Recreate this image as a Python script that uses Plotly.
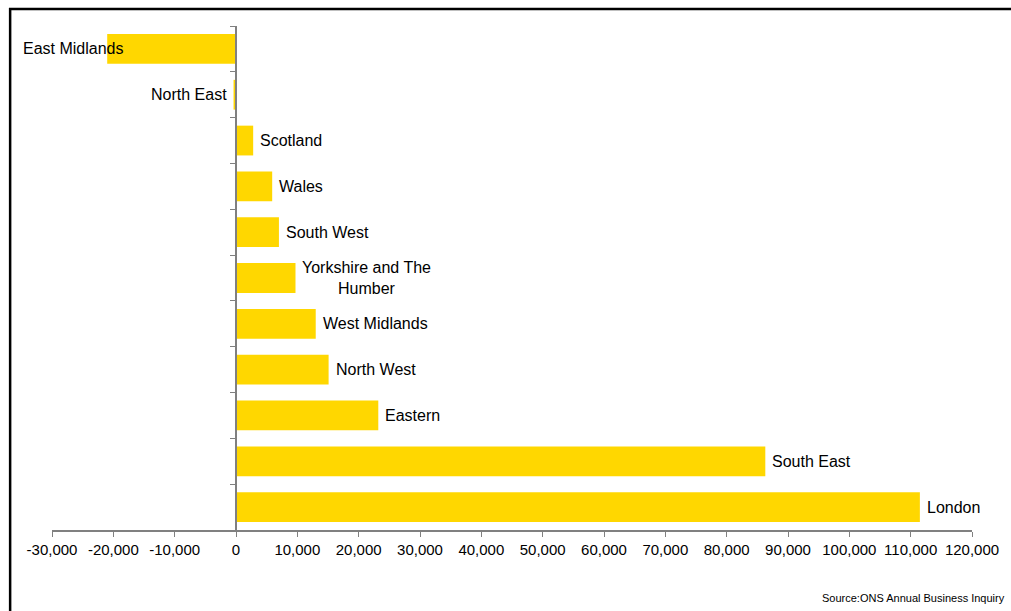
import plotly.graph_objects as go

# Regions, top to bottom, and their change in employment
regions = ["East Midlands", "North East", "Scotland", "Wales", "South West",
           "Yorkshire and The Humber", "West Midlands", "North West", "Eastern",
           "South East", "London"]
labels = ["East Midlands", "North East", "Scotland", "Wales", "South West",
          "Yorkshire and The<br>Humber", "West Midlands", "North West", "Eastern",
          "South East", "London"]
values = [-21000, -400, 2800, 5900, 7000, 9700, 13000, 15100, 23200, 86300, 111500]

x_ticks = list(range(-30000, 120001, 10000))
x_tick_text = [f"{t:,}" for t in x_ticks]  # plain hyphen for negatives

W, H = 1011, 611
ML, MR, MT, MB = 52, 36, 26, 81
PW, PH = W - ML - MR, H - MT - MB


def px(x):
    return (x - ML) / PW


def py(y):
    return (H - MB - y) / PH


BAR = "#FFD700"
AXIS = "#808080"
FONT = "Liberation Sans, Arial, sans-serif"

fig = go.Figure(go.Bar(
    x=values, y=regions, orientation="h",
    marker=dict(color=BAR, line=dict(width=0)),
    hoverinfo="x+y",
))

annotations = []
for reg, lab, v in zip(regions, labels, values):
    if v >= 0:
        annotations.append(dict(x=v, y=reg, xref="x", yref="y", text=lab,
                                showarrow=False, xanchor="left", xshift=5,
                                align="center",
                                font=dict(size=16, color="#000", family=FONT)))
    else:
        shift = 19 if v < -5000 else -5
        annotations.append(dict(x=v, y=reg, xref="x", yref="y", text=lab,
                                showarrow=False, xanchor="right", xshift=shift,
                                font=dict(size=16, color="#000", family=FONT)))

annotations.append(dict(x=px(1010), y=py(598), xref="paper", yref="paper",
                        text="Source:ONS Annual Business Inquiry", showarrow=False,
                        xanchor="right", yanchor="middle",
                        font=dict(size=11, color="#000", family=FONT)))

# Black frame along the top and left of the chart
shapes = [dict(type="path", xref="paper", yref="paper",
               path=f"M {px(10)} {py(615)} L {px(10)} {py(9)} L {px(1016)} {py(9)}",
               line=dict(color="#000", width=2.5))]

fig.update_layout(
    width=W, height=H,
    margin=dict(l=ML, r=MR, t=MT, b=MB),
    paper_bgcolor="white", plot_bgcolor="white",
    showlegend=False, bargap=0.35,
    font=dict(family=FONT, size=15, color="#000"),
    xaxis=dict(range=[-30000, 120000], tickvals=x_ticks, ticktext=x_tick_text,
               showgrid=False, zeroline=False, showline=True, linecolor=AXIS,
               linewidth=1.5, ticks="outside", ticklen=5, tickcolor=AXIS,
               tickfont=dict(size=15, family=FONT, color="#000")),
    yaxis=dict(categoryorder="array", categoryarray=regions, autorange="reversed",
               showticklabels=False, showgrid=False, zeroline=False,
               showline=True, linecolor=AXIS, linewidth=1.5,
               ticks="outside", ticklen=5, tickcolor=AXIS, tickson="boundaries",
               anchor="free", position=30000 / 150000),
    annotations=annotations,
    shapes=shapes,
)

fig.write_html("out.html")
